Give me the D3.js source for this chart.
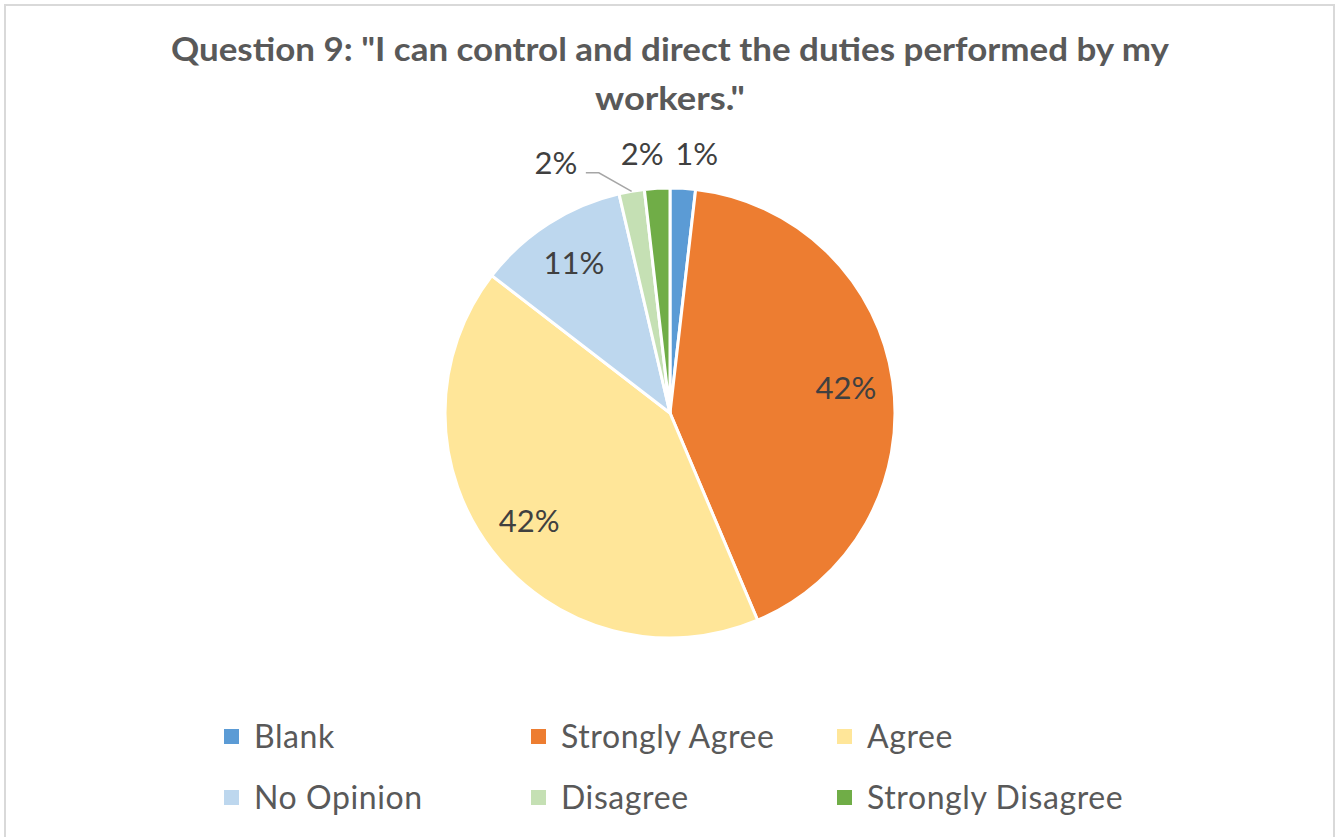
<!DOCTYPE html>
<html>
<head>
<meta charset="utf-8">
<script src="https://cdnjs.cloudflare.com/ajax/libs/d3/7.8.5/d3.min.js"></script>
<style>
  body { margin: 0; background: #fff; }
  text { font-family: "Lato", "Open Sans", sans-serif; }
</style>
</head>
<body>
<div id="chart"></div>
<script>
// 数据
var titleLines = ['Question 9: "I can control and direct the duties performed by my', 'workers."'];
var categories = ["Blank", "Strongly Agree", "Agree", "No Opinion", "Disagree", "Strongly Disagree"];
var counts = [1, 23, 23, 6, 1, 1];
var labels = ["1%", "42%", "42%", "11%", "2%", "2%"];
var colors = ["#5B9BD5", "#ED7D31", "#FFE699", "#BDD7EE", "#C5E0B4", "#70AD47"];

var width = 1342,
  height = 837,
  cx = 670, cy = 413,  // 饼图中心
  radius = 225;

var svg = d3.select("#chart")
  .append("svg")
  .attr("width", width)
  .attr("height", height);

// 外框
svg.append("rect")
  .attr("x", 5).attr("y", 5)
  .attr("width", 1329).attr("height", 850)
  .style("fill", "none")
  .style("stroke", "#d9d9d9")
  .style("stroke-width", 2);

// 标题
var titleW = [998, 150];
svg.selectAll(".title")
  .data(titleLines)
  .enter()
  .append("text")
  .attr("class", "title")
  .attr("x", cx)
  .attr("y", function (d, i) { return 61 + i * 49; })
  .attr("text-anchor", "middle")
  .attr("textLength", function (d, i) { return titleW[i]; })
  .attr("lengthAdjust", "spacingAndGlyphs")
  .style("font-size", "32px")
  .style("font-weight", "bold")
  .style("fill", "#595959")
  .text(function (d) { return d; });

var pie = d3.pie().sort(null).value(function (d) { return d; });
var arcs = pie(counts);
var total = d3.sum(counts);

var arc = d3.arc().innerRadius(0).outerRadius(radius);

var g = svg.append("g").attr("transform", "translate(" + cx + "," + cy + ")");

g.selectAll("path")
  .data(arcs)
  .enter()
  .append("path")
  .attr("d", arc)
  .style("fill", function (d, i) { return colors[i]; })
  .style("stroke", "#fff")
  .style("stroke-width", 3);

// 数据标签
var inner = d3.arc().innerRadius(radius * 0.79).outerRadius(radius * 0.79);
var nudge = { 0: 12, 4: -70, 5: -13 };  // 小扇区标签水平偏移
function mid(d) { return (d.startAngle + d.endAngle) / 2; }

arcs.forEach(function (d, i) {
  var small = d.value / total < 0.03;
  var x, y;
  if (!small) {
    var c = inner.centroid(d);
    x = c[0]; y = c[1];
  } else {
    var a = mid(d);
    x = Math.sin(a) * (radius + 34) + (nudge[i] || 0);
    y = -Math.cos(a) * (radius + 34);
    if (i === 4) {
      // 引导线
      var ex = Math.sin(a) * radius, ey = -Math.cos(a) * radius;
      g.append("polyline")
        .attr("points", [[ex, ey], [x + 43, y + 15], [x + 30, y + 15]].join(" "))
        .style("fill", "none")
        .style("stroke", "#a6a6a6")
        .style("stroke-width", 1.5);
      y += 5;
    }
  }
  g.append("text")
    .attr("x", x)
    .attr("y", y)
    .attr("dy", "0.35em")
    .attr("text-anchor", "middle")
    .style("font-size", "31px")
    .style("fill", "#404040")
    .text(labels[i]);
});

// 图例
var colX = [224, 531, 837];
var rowY = [737, 798];
var legend = svg.selectAll(".legend")
  .data(categories)
  .enter()
  .append("g")
  .attr("class", "legend")
  .attr("transform", function (d, i) {
    return "translate(" + colX[i % 3] + "," + rowY[Math.floor(i / 3)] + ")";
  });

legend.append("rect")
  .attr("x", 0).attr("y", -8)
  .attr("width", 15).attr("height", 15)
  .style("fill", function (d, i) { return colors[i]; });

legend.append("text")
  .attr("x", 30)
  .attr("y", 0)
  .attr("dy", "0.35em")
  .style("font-size", "32px")
  .style("letter-spacing", "0.6px")
  .style("fill", "#595959")
  .text(function (d) { return d; });
</script>
</body>
</html>
